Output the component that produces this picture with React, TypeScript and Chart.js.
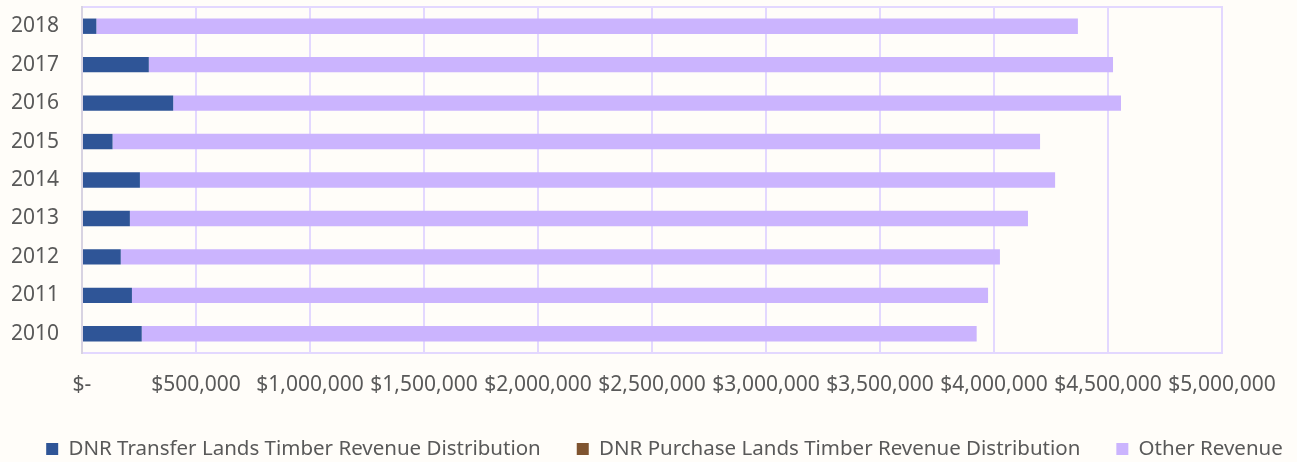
import React, { useEffect, useRef } from 'react';
import { Chart, registerables } from 'chart.js';

Chart.register(...registerables);

const years = ['2010', '2011', '2012', '2013', '2014', '2015', '2016', '2017', '2018'];
const transferLands = [262000, 219000, 170000, 210000, 254000, 134000, 400000, 293000, 63000];
const purchaseLands = [0, 0, 0, 0, 0, 0, 0, 0, 0];
const otherRevenue = [3662000, 3755000, 3856000, 3939000, 4014000, 4068000, 4157000, 4229000, 4305000];
const seriesNames = [
  'DNR Transfer Lands Timber Revenue Distribution',
  'DNR Purchase Lands Timber Revenue Distribution',
  'Other Revenue',
];
const xMax = 5000000;
const xStep = 500000;

const FONT = '"Noto Sans", sans-serif';
const TEXT = '#595959';
const GRID = '#E3D8FF';

function fmt(v: number): string {
  if (v === 0) return '$-';
  return '$' + v.toLocaleString('en-US');
}

export default function App() {
  const ref = useRef<HTMLCanvasElement | null>(null);
  useEffect(() => {
    document.body.style.margin = '0';
    if (!ref.current) return;
    const chart = new Chart(ref.current, {
      type: 'bar',
      data: {
        labels: years,
        datasets: [
          { label: seriesNames[0], data: transferLands, backgroundColor: '#2F5597', borderWidth: 0 },
          { label: seriesNames[1], data: purchaseLands, backgroundColor: '#7F5430', borderWidth: 0 },
          { label: seriesNames[2], data: otherRevenue, backgroundColor: '#CBB4FE', borderWidth: 0 },
        ],
      },
      options: {
        indexAxis: 'y',
        responsive: false,
        animation: false,
        devicePixelRatio: 1,
        layout: { padding: { top: 7, left: 0, right: -32, bottom: -7.25 } },
        datasets: { bar: { categoryPercentage: 1, barPercentage: 0.4 } },
        scales: {
          x: {
            type: 'linear',
            stacked: true,
            min: 0,
            max: xMax,
            grid: { color: GRID, lineWidth: 2, drawTicks: false },
            border: { display: true, color: GRID, width: 2 },
            ticks: {
              stepSize: xStep,
              autoSkip: false,
              maxRotation: 0,
              padding: 19,
              color: TEXT,
              font: { family: FONT, size: 21 },
              callback: (v: any) => fmt(Number(v)),
            },
            afterFit: (s: any) => {
              s.height = 49.75;
              s.paddingRight = 75;
            },
          },
          x2: {
            type: 'linear',
            position: 'top',
            display: true,
            grid: { display: false, drawTicks: false },
            ticks: { display: false },
            border: { display: true, color: GRID, width: 2 },
          },
          y: {
            type: 'category',
            stacked: true,
            reverse: true,
            grid: { display: false, drawTicks: false },
            border: { display: true, color: '#D8D3E2', width: 2 },
            ticks: {
              padding: 23,
              color: TEXT,
              font: { family: FONT, size: 21 },
            },
            afterFit: (s: any) => {
              s.width = 82;
              s.paddingTop = 0;
              s.paddingBottom = 0;
            },
          },
        },
        plugins: {
          tooltip: { enabled: false },
          legend: {
            position: 'bottom',
            labels: {
              boxWidth: 12,
              boxHeight: 12,
              padding: 36,
              color: TEXT,
              font: { family: FONT, size: 20.5 },
            },
          },
        },
      },
    });
    return () => chart.destroy();
  }, []);
  return (
    <div style={{ width: 1297, height: 462, background: '#FFFDF9' }}>
      <canvas ref={ref} width={1297} height={462} style={{ display: 'block' }} />
    </div>
  );
}
